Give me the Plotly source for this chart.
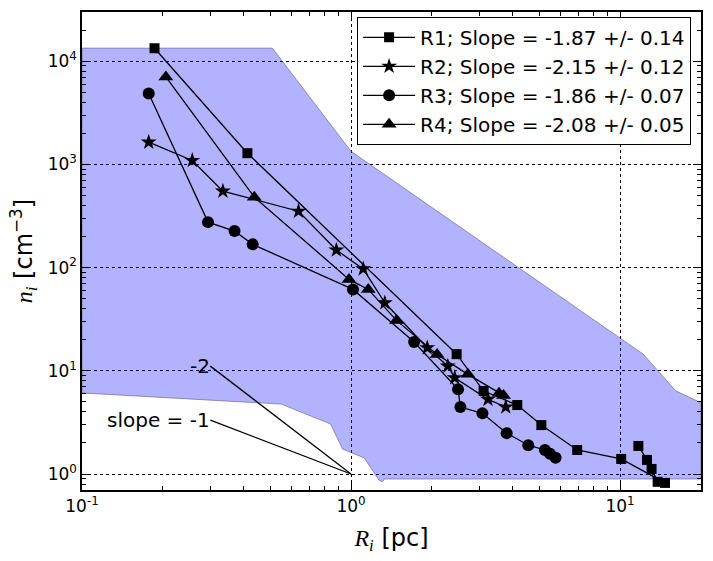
import numpy as np
import plotly.graph_objects as go

# ---- data ----
r1_R = [0.186, 0.412, 2.47, 3.11, 4.15, 5.10, 6.93, 10.1, 14.7, 13.8, 13.1, 12.6, 11.7]
r1_n = [13360, 1285, 14.5, 6.37, 4.66, 2.98, 1.71, 1.40, 0.82, 0.84, 1.12, 1.37, 1.87]

r2_R = [0.177, 0.257, 0.334, 0.638, 0.882, 1.11, 1.336, 1.92, 2.29, 2.43, 3.23, 3.76]
r2_n = [1642, 1092, 551, 352, 148, 97.3, 45.6, 16.7, 11.1, 8.57, 5.29, 4.46]

r3_R = [0.177, 0.294, 0.369, 0.431, 1.017, 1.716, 2.50, 2.55, 3.08, 3.79, 4.56, 5.26, 5.49, 5.76]
r3_n = [4866, 276, 226, 168, 61.5, 19.0, 6.61, 4.46, 3.87, 2.49, 1.90, 1.71, 1.57, 1.44]

r4_R = [0.205, 0.437, 0.983, 1.159, 1.476, 2.09, 2.72, 3.55, 3.69]
r4_n = [7040, 482, 76.9, 61.5, 30.8, 14.4, 9.24, 6.05, 5.78]

names = ["R1; Slope = -1.87 +/- 0.14", "R2; Slope = -2.15 +/- 0.12",
         "R3; Slope = -1.86 +/- 0.07", "R4; Slope = -2.08 +/- 0.05"]

# shaded region outline
region_R = [0.1, 0.51, 1.0, 12.2, 16.1, 20.0, 20.0, 1.33, 1.31, 1.27, 1.12, 0.93, 0.84, 0.55, 0.1, 0.1]
region_n = [13400, 13400, 1340, 14.5, 6.4, 4.9, 0.895, 0.895, 0.84, 0.875, 1.43, 1.75, 3.05, 4.76, 6.1, 13400]

# reference slope lines
slope_R = [1.0, 0.3]
slope2_n = [1.0, 11.1]
slope1_n = [1.0, 3.33]

x_tickvals = [0.1, 1, 10]
x_ticktext = ["10<sup>-1</sup>", "10<sup>0</sup>", "10<sup>1</sup>"]
y_tickvals = [1, 10, 100, 1000, 10000]
y_ticktext = ["10<sup>0</sup>", "10<sup>1</sup>", "10<sup>2</sup>", "10<sup>3</sup>", "10<sup>4</sup>"]

FONT = "DejaVu Sans"
MATH = "Liberation Serif"

fig = go.Figure()
fig.add_trace(go.Scatter(x=region_R, y=region_n, mode="lines", fill="toself",
                         fillcolor="rgba(0,0,255,0.3)",
                         line=dict(color="rgba(90,90,130,0.6)", width=1),
                         showlegend=False, hoverinfo="skip"))
fig.add_trace(go.Scatter(x=slope_R, y=slope2_n, mode="lines", line=dict(color="black", width=1.3),
                         showlegend=False))
fig.add_trace(go.Scatter(x=slope_R, y=slope1_n, mode="lines", line=dict(color="black", width=1.3),
                         showlegend=False))

series = [(r1_R, r1_n, "square", 10), (r2_R, r2_n, "star", 12),
          (r3_R, r3_n, "circle", 12), (r4_R, r4_n, "triangle-up", 13)]
for (xs, ys, sym, sz), nm in zip(series, names):
    fig.add_trace(go.Scatter(x=xs, y=ys, mode="lines+markers", name=nm,
                             line=dict(color="black", width=1.3),
                             marker=dict(symbol=sym, size=sz, color="black",
                                         line=dict(width=0))))

fig.add_annotation(x=np.log10(0.3), y=np.log10(11.1), text="-2", showarrow=False, xshift=2,
                   xanchor="right", yanchor="middle", font=dict(family=FONT, size=20, color="black"))
fig.add_annotation(x=np.log10(0.3), y=np.log10(3.33), text="slope = -1", showarrow=False, xshift=2,
                   xanchor="right", yanchor="middle", font=dict(family=FONT, size=20, color="black"))

axis_common = dict(type="log", showline=True, linecolor="black", linewidth=1.5, mirror="allticks",
                   ticks="inside", ticklen=8, tickcolor="black",
                   showgrid=True, gridcolor="black", griddash="dot", gridwidth=1,
                   zeroline=False,
                   minor=dict(ticks="inside", ticklen=4, tickcolor="black", dtick="D1", showgrid=False),
                   tickfont=dict(family=FONT, size=17, color="black"))

fig.update_xaxes(range=[-1, np.log10(20)], tickvals=x_tickvals, ticktext=x_ticktext,
                 title=dict(text=f"<span style='font-family:{MATH}'><i>R</i><sub><i>i</i></sub></span> [pc]",
                            font=dict(family=FONT, size=24, color="black"), standoff=14),
                 **axis_common)
fig.update_yaxes(range=[np.log10(0.7), np.log10(3e4)], tickvals=y_tickvals, ticktext=y_ticktext,
                 title=dict(text=f"<span style='font-family:{MATH}'><i>n</i><sub><i>i</i></sub></span> [cm<sup>−3</sup>]",
                            font=dict(family=FONT, size=24, color="black"), standoff=8),
                 **axis_common)

fig.update_layout(width=713, height=561, margin=dict(l=82, r=10, t=10, b=71),
                  plot_bgcolor="white", paper_bgcolor="white",
                  font=dict(family=FONT, color="black"),
                  legend=dict(x=0.984, y=0.99, xanchor="right", yanchor="top", itemwidth=52,
                              bgcolor="white", bordercolor="black", borderwidth=1,
                              font=dict(family=FONT, size=20, color="black")),
                  showlegend=True)

fig.write_html("out.html")
